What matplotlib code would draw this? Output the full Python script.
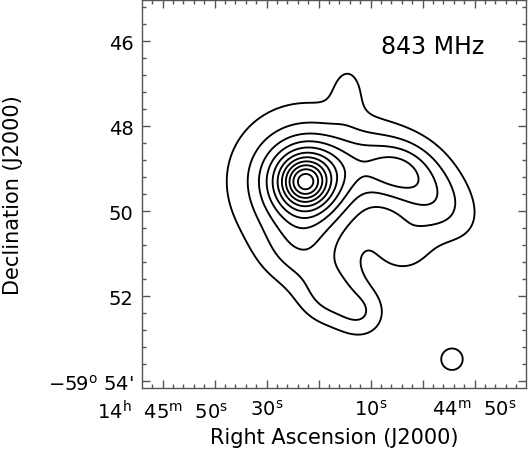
import numpy as np
import matplotlib
matplotlib.use("Agg")
import matplotlib.pyplot as plt
from matplotlib.ticker import FixedLocator, AutoMinorLocator

# ---- data -------------------------------------------------------------
# Sky-model components.  RA in seconds past 14h44m, Dec in arcmin south of -59 deg
comp_ra = [82.63, 82.63, 82.63, 71.10, 65.33, 59.56, 74.37, 83.60, 77.83, 71.67, 63.40, 54.37]
comp_dec = [49.31, 49.31, 49.31, 48.89, 49.05, 49.52, 47.12, 50.89, 51.95, 52.42, 50.84, 53.48]
comp_amp = [2.6, 5.6, 3.0, 1.5, 1.0, 2.8, 1.0, 1.5, 2.0, 1.6, 1.25, 1.5]
comp_smaj = [0.30, 0.565, 1.22, 1.06, 0.50, 0.95, 0.47, 0.61, 0.52, 0.42, 0.50, 0.28]   # arcmin
comp_smin = [0.30, 0.565, 1.22, 0.59, 0.40, 0.57, 0.28, 0.61, 0.52, 0.42, 0.50, 0.28]   # arcmin
comp_pa = [0, 0, 0, 0, 0, -42, 90, 0, 0, 0, 0, 0]  # deg

contour_levels = [1, 2, 3, 4, 5, 6, 7, 8, 9, 10, 11]

ra_ticks = [110, 100, 90, 80, 70, 60, 50]
ra_ticklabels = [r"14$^{\rm h}$  45$^{\rm m}$  50$^{\rm s}$", "", r"30$^{\rm s}$", "",
                 r"10$^{\rm s}$", "", r"44$^{\rm m}$  50$^{\rm s}$"]
dec_ticks = [46, 48, 50, 52, 54]
dec_ticklabels = ["46", "48", "50", "52", "\u221259$^{\\rm o}$ 54'"]

ra_limits = (113.98, 40.23)
dec_limits = (54.15, 45.03)
freq_label = "843 MHz"

# ---- model image ------------------------------------------------------
ra_scale = 5.2 / 42.5   # arcmin per second of RA at this map scale
S, D = np.meshgrid(np.linspace(40.0, 114.5, 500), np.linspace(44.8, 54.4, 500))
F = np.zeros_like(S)
for ra, dec, a, smaj, smin, pa in zip(comp_ra, comp_dec, comp_amp, comp_smaj, comp_smin, comp_pa):
    du = (ra - S) * ra_scale
    dv = dec - D
    t = np.deg2rad(pa)
    p = du * np.cos(t) + dv * np.sin(t)
    q = -du * np.sin(t) + dv * np.cos(t)
    F += a * np.exp(-0.5 * ((p / smaj) ** 2 + (q / smin) ** 2))

# ---- figure -----------------------------------------------------------
plt.rcParams["font.family"] = ["DejaVu Sans"]
plt.rcParams["mathtext.fontset"] = "dejavusans"
fig = plt.figure(figsize=(5.28, 4.52), dpi=100)
ax = fig.add_axes([142 / 528, (452 - 388.7) / 452, 383.5 / 528, 387.7 / 452])

ax.contour(S, D, F, levels=contour_levels, colors="black", linewidths=1.35)

ax.set_xlim(*ra_limits)
ax.set_ylim(*dec_limits)

ax.xaxis.set_major_locator(FixedLocator(ra_ticks))
ax.set_xticklabels(ra_ticklabels)
ax.yaxis.set_major_locator(FixedLocator(dec_ticks))
ax.set_yticklabels(dec_ticklabels)
ax.xaxis.set_minor_locator(AutoMinorLocator(5))
ax.yaxis.set_minor_locator(AutoMinorLocator(5))
ax.tick_params(which="both", direction="in", top=True, right=True, color="#555555",
               labelsize=14, width=1.0)
ax.tick_params(which="major", length=6)
ax.tick_params(which="minor", length=3)
ax.tick_params(axis="y", which="major", pad=6)
ax.tick_params(axis="x", which="major", pad=8)
for sp in ax.spines.values():
    sp.set_color("#555555")
    sp.set_linewidth(1.0)

ax.set_xlabel("Right Ascension (J2000)", fontsize=15)
ax.set_ylabel("Declination (J2000)", fontsize=15)
ax.xaxis.set_label_coords(0.5, -0.102)
ax.xaxis.label.set_va("top")
ax.yaxis.set_label_coords(-0.311, 0.5)

ax.text(0.757, 0.881, freq_label, transform=ax.transAxes, fontsize=17,
        ha="center", va="center")

fig.savefig("out.png", dpi=100)
